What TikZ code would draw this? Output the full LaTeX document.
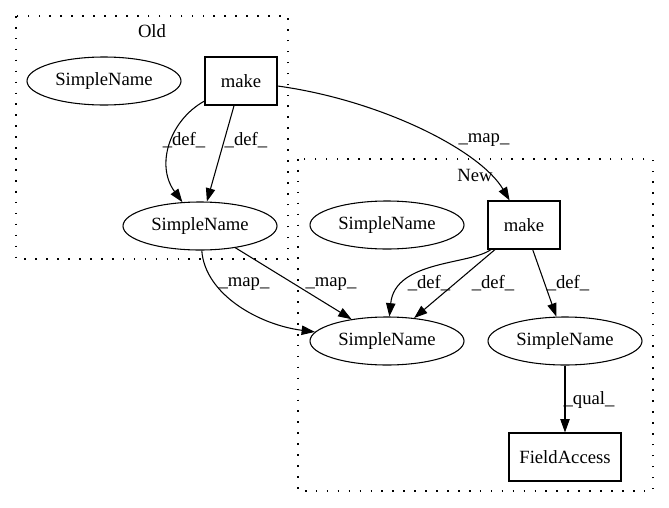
\documentclass[tikz,border=0pt]{standalone}
\usepackage{fontspec}
\setmainfont{Liberation Serif}
\usetikzlibrary{shapes.geometric,arrows.meta}
\begin{document}
\begin{tikzpicture}[x=0.75pt,y=-0.75pt,
  font=\fontsize{14}{16}\selectfont,
  ell/.style={draw,ellipse,minimum width=115.5pt,minimum height=36pt,inner sep=0pt,line width=0.8pt},
  box/.style={draw,rectangle,minimum width=54pt,minimum height=36pt,inner sep=0pt,line width=0.8pt},
  arr/.style={draw,line width=0.8pt,-{Triangle[length=10pt,width=7pt]}},
  lbl/.style={inner sep=0pt},
  clus/.style={draw,line width=1pt,dash pattern=on 1.2pt off 7pt}]
\useasboundingbox (0,0) rectangle (669,508);
% clusters
\draw[clus] (16,16) rectangle (288,259);
\draw[clus] (298,159) rectangle (653,491);
\node[lbl] (oldl) at (152,31) {Old};
\node[lbl] (newl) at (475,175) {New};
% nodes
\node[ell] (oS) at (104,81) {SimpleName};
\node[box] (oM) at (241,81) {make};
\node[ell] (oB) at (200,226) {SimpleName};
\node[ell] (nS) at (387,225) {SimpleName};
\node[box] (nM) at (524,225) {make};
\node[ell] (nB) at (387,341) {SimpleName};
\node[ell] (nR) at (565,341) {SimpleName};
\node[box,minimum width=84pt] (nF) at (565,457) {FieldAccess};
% edges
\draw[arr] (oM) .. controls (170,120) and (155,165) .. (oB);
\draw[arr] (oM) -- (oB);
\draw[arr] (oM) .. controls (380,100) and (480,150) .. (nM);
\draw[arr] (oB) .. controls (205,295) and (260,325) .. (nB);
\draw[arr] (oB) -- (nB);
\draw[arr] (nM) .. controls (470,265) and (395,260) .. (nB);
\draw[arr] (nM) -- (nB);
\draw[arr] (nM) -- (nR);
\draw[arr] (nR) -- (nF);
% labels
\node[lbl] (l1) at (184,140) {\_def\_};
\node[lbl] (l2) at (246,140) {\_def\_};
\node[lbl] (l3) at (484,140) {\_map\_};
\node[lbl] (l4) at (244,284) {\_map\_};
\node[lbl] (l5) at (331,284) {\_map\_};
\node[lbl] (l6) at (429,283) {\_def\_};
\node[lbl] (l7) at (493,283) {\_def\_};
\node[lbl] (l8) at (568,283) {\_def\_};
\node[lbl] (l9) at (589,400) {\_qual\_};
\end{tikzpicture}
\end{document}
